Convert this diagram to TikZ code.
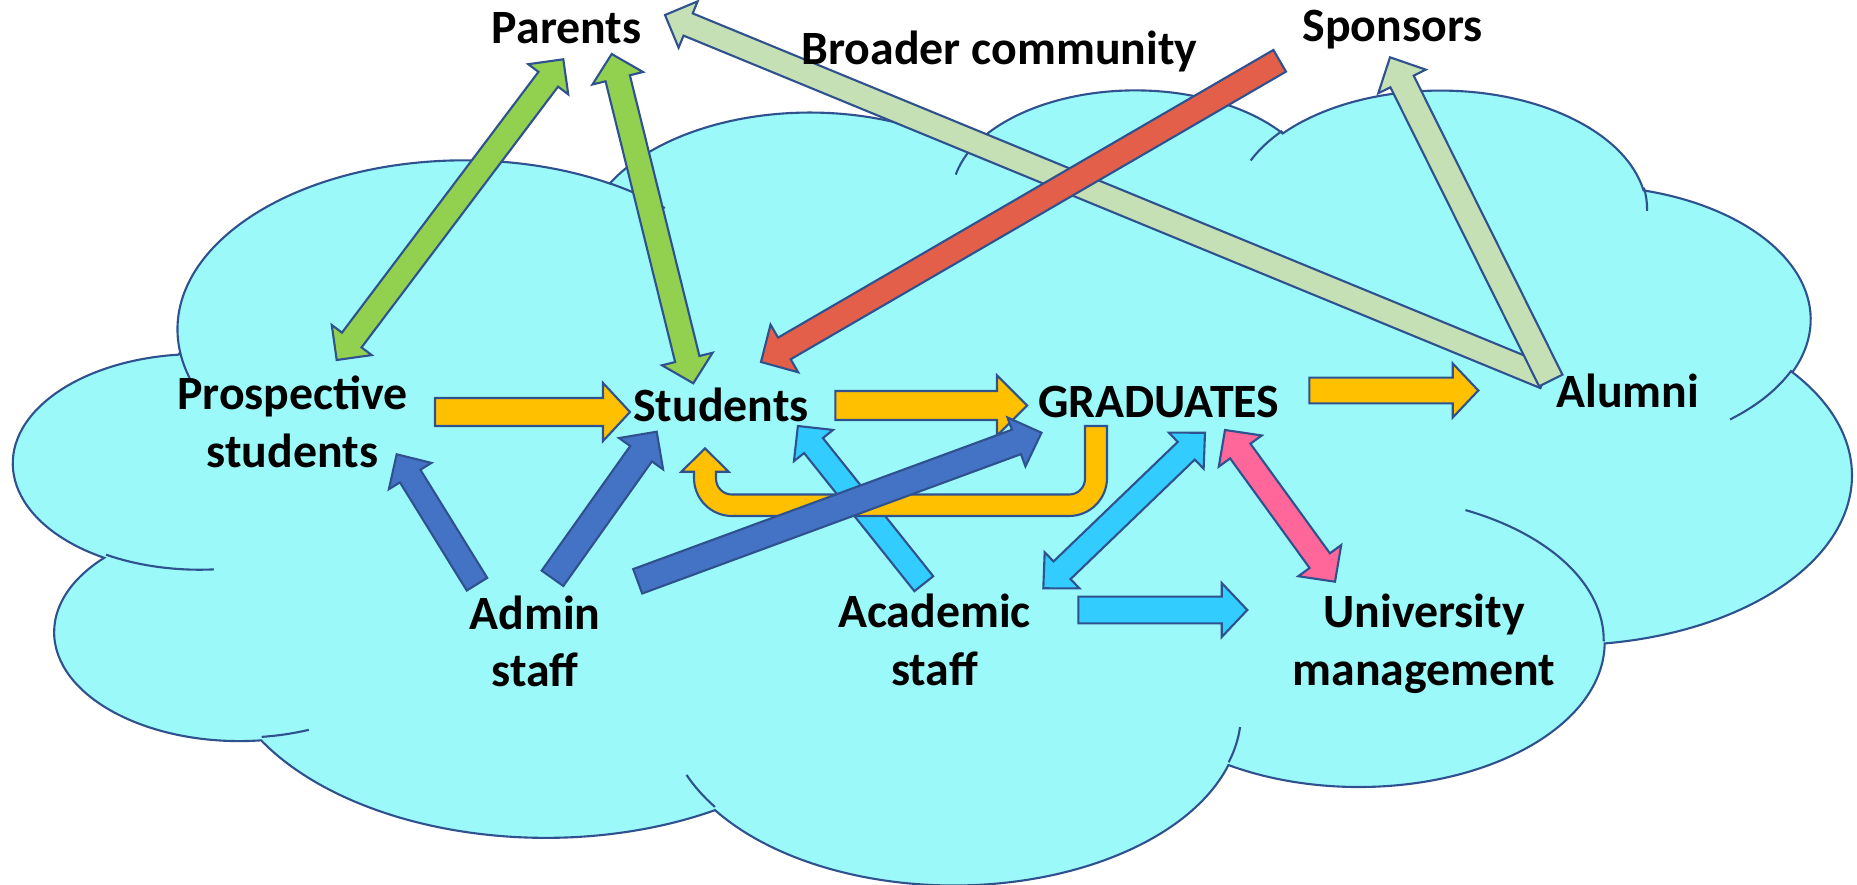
\documentclass[tikz,border=0pt]{standalone}
\usepackage{fontspec}
\setmainfont{Carlito}
\usetikzlibrary{calc}

\definecolor{edge}{HTML}{2F528F}
\definecolor{cloudfill}{HTML}{9BF9FA}
\definecolor{leaf}{HTML}{92D050}
\definecolor{sage}{HTML}{C5E0B4}
\definecolor{brick}{HTML}{E35F49}
\definecolor{amber}{HTML}{FFC000}
\definecolor{royal}{HTML}{4472C4}
\definecolor{sky}{HTML}{33CCFF}
\definecolor{rose}{HTML}{FF6699}

% single-headed block arrow: style, tail, tip, shaft width, head width, head length
\newcommand\blockarrow[6]{%
  \pgfmathsetmacro\baS{#4*0.005}%
  \pgfmathsetmacro\baH{#5*0.005}%
  \pgfmathsetmacro\baL{#6*0.01}%
  \coordinate (ba-n) at ($(#3)!\baL cm!(#2)$);
  \filldraw[arrowbody,#1] ($(#2)!\baS cm!90:(#3)$) -- ($(ba-n)!\baS cm!90:(#3)$)
    -- ($(ba-n)!\baH cm!90:(#3)$) -- (#3) -- ($(ba-n)!\baH cm!-90:(#3)$)
    -- ($(ba-n)!\baS cm!-90:(#3)$) -- ($(#2)!\baS cm!-90:(#3)$) -- cycle;
}
% double-headed block arrow
\newcommand\twowayarrow[6]{%
  \pgfmathsetmacro\baS{#4*0.005}%
  \pgfmathsetmacro\baH{#5*0.005}%
  \pgfmathsetmacro\baL{#6*0.01}%
  \coordinate (ba-m) at ($(#2)!\baL cm!(#3)$);
  \coordinate (ba-n) at ($(#3)!\baL cm!(#2)$);
  \filldraw[arrowbody,#1] (#2) -- ($(ba-m)!\baH cm!90:(#3)$) -- ($(ba-m)!\baS cm!90:(#3)$)
    -- ($(ba-n)!\baS cm!90:(#3)$) -- ($(ba-n)!\baH cm!90:(#3)$) -- (#3)
    -- ($(ba-n)!\baH cm!-90:(#3)$) -- ($(ba-n)!\baS cm!-90:(#3)$)
    -- ($(ba-m)!\baS cm!-90:(#3)$) -- ($(ba-m)!\baH cm!-90:(#3)$) -- cycle;
}

\begin{document}
\begin{tikzpicture}[x=0.01cm, y=-0.01cm,
  declare function={
    vis(\cA,\cW,\cH)=atan2(\cW*sin(\cA),\cH*cos(\cA));
    sweep(\cA,\cS,\cW,\cH)=mod(vis(\cA+\cS,\cW,\cH)-vis(\cA,\cW,\cH)+720,360);
  },
  lobe/.style n args={4}{insert path={arc[x radius=#3, y radius=#4,
      start angle={vis(#1,#3,#4)}, delta angle={sweep(#1,#2,#3,#4)}]}},
  cloud/.style={fill=cloudfill, draw=edge, line width=0.6pt},
  cusp/.style={draw=edge, line width=0.6pt},
  arrowbody/.style={draw=edge, line width=0.6pt, line join=miter},
  lbl/.style={font=\fontsize{13.6}{16.4}\selectfont\bfseries, align=center,
      inner sep=0pt, anchor=base},
]
\useasboundingbox (0,0) rectangle (1857,885);

% the cloud, built from eleven elliptic lobes
\begin{scope}[shift={(14.3,87.8)}]
\begin{scope}[x=0.04249cm, y=-0.018382cm]
\filldraw[cloud] (39.00,143.70)
  [lobe={-190.487}{123.781}{67.53}{91.90}]
  [lobe={-144.102}{89.945}{53.33}{72.67}]
  [lobe={-145.808}{99.723}{43.65}{59.45}]
  [lobe={-130.986}{117.242}{48.57}{65.95}]
  [lobe={-78.709}{109.027}{53.33}{72.73}]
  [lobe={-46.267}{130.269}{67.75}{92.20}]
  [lobe={0.625}{114.033}{57.85}{78.67}]
  [lobe={22.452}{115.173}{67.52}{92.15}]
  [lobe={66.243}{75.711}{77.20}{105.43}]
  [lobe={-274.942}{146.736}{43.60}{59.18}]
  [lobe={-246.829}{152.519}{43.45}{59.45}] -- cycle;
\draw[cusp] (46.93,261.77) [lobe={86.742}{26.430}{43.45}{59.45}];
\draw[cusp] (69.28,348.99) [lobe={73.610}{11.447}{43.60}{59.18}];
\draw[cusp] (164.78,390.90) [lobe={137.624}{14.081}{67.52}{92.15}];
\draw[cusp] (288.27,347.51) [lobe={6.453}{15.998}{67.52}{92.15}];
\draw[cusp] (341.29,229.54) [lobe={-70.292}{70.917}{57.85}{78.67}];
\draw[cusp] (417.98,153.54) [lobe={30.318}{27.752}{53.33}{72.73}];
\draw[cusp] (383.24,54.26) [lobe={-13.744}{14.859}{48.57}{65.95}];
\draw[cusp] (290.78,39.52) [lobe={-149.181}{18.195}{48.57}{65.95}];
\draw[cusp] (221.41,47.20) [lobe={-163.494}{17.686}{43.65}{59.45}];
\draw[cusp] (140.00,51.92) [lobe={-66.707}{12.319}{67.53}{91.90}];
\draw[cusp] (41.27,157.89) [lobe={157.654}{11.858}{67.53}{91.90}];
\end{scope}
\end{scope}

% arrow ends
\coordinate (pro-par-a) at (336.7,360);   \coordinate (pro-par-b) at (563.3,59.3);
\coordinate (stu-par-a) at (611.7,54);    \coordinate (stu-par-b) at (693.3,383.3);
\coordinate (alu-par-a) at (1545,377);    \coordinate (alu-par-b) at (665,15);
\coordinate (alu-spo-a) at (1550.8,380.5);\coordinate (alu-spo-b) at (1390,57.3);
\coordinate (spo-stu-a) at (1279.7,60.8); \coordinate (spo-stu-b) at (761,362);
\coordinate (pro-stu-a) at (435,412);     \coordinate (pro-stu-b) at (630,412);
\coordinate (stu-gra-a) at (835.4,405.5); \coordinate (stu-gra-b) at (1027,405.5);
\coordinate (gra-alu-a) at (1309.3,390.5);\coordinate (gra-alu-b) at (1478.3,390.5);
\coordinate (adm-pro-a) at (477,584.2);   \coordinate (adm-pro-b) at (396.7,454.3);
\coordinate (adm-stu-a) at (552.5,578.3); \coordinate (adm-stu-b) at (656.7,431.7);
\coordinate (adm-gra-a) at (637.7,581.3); \coordinate (adm-gra-b) at (1041.5,432.7);
\coordinate (aca-stu-a) at (923.8,583.7); \coordinate (aca-stu-b) at (797.9,426);
\coordinate (aca-gra-a) at (1043.3,588.3);\coordinate (aca-gra-b) at (1205,432.7);
\coordinate (aca-man-a) at (1078.3,610);  \coordinate (aca-man-b) at (1247.3,610);
\coordinate (gra-man-a) at (1225,430);    \coordinate (gra-man-b) at (1335,581.7);
\coordinate (u-start) at (1096,426);      \coordinate (u-tip) at (705,448.3);

% parents
\twowayarrow{fill=leaf}{pro-par-a}{pro-par-b}{24.5}{50}{25}
\twowayarrow{fill=leaf}{stu-par-a}{stu-par-b}{25}{52}{25}
% alumni outwards
\blockarrow{fill=sage}{alu-par-a}{alu-par-b}{24}{50}{25}
\blockarrow{fill=brick}{spo-stu-a}{spo-stu-b}{25}{55}{27}
\blockarrow{fill=sage}{alu-spo-a}{alu-spo-b}{26}{53}{27}
% main flow
\blockarrow{fill=amber}{pro-stu-a}{pro-stu-b}{28}{58}{27}
\blockarrow{fill=amber}{gra-alu-a}{gra-alu-b}{25.6}{54}{25.6}
% academic and management links
\blockarrow{fill=sky}{aca-man-a}{aca-man-b}{26.7}{54}{25.6}
\twowayarrow{fill=sky}{aca-gra-a}{aca-gra-b}{24.5}{50}{26}
\twowayarrow{fill=rose}{gra-man-a}{gra-man-b}{25}{53}{26}
% admin links
\blockarrow{fill=royal}{adm-pro-a}{adm-pro-b}{24}{50}{25.6}
\blockarrow{fill=royal}{adm-stu-a}{adm-stu-b}{26.5}{54}{27}
\blockarrow{fill=sky}{aca-stu-a}{aca-stu-b}{24}{50}{25}
% graduates back to students (u-turn)
\filldraw[arrowbody, fill=amber] ($(u-start)+(-11,0)$) -- ++(22,0) -- ++(0,52)
  arc[start angle=0, end angle=90, radius=38] -- ++(-337,0)
  arc[start angle=90, end angle=180, radius=38] -- ++(0,-6.3) -- ++(-12.5,0)
  -- (u-tip) -- ++(23.5,23.4) -- ++(-12.5,0) -- ++(0,7)
  arc[start angle=180, end angle=90, radius=15.8] -- ++(337.4,0)
  arc[start angle=90, end angle=0, radius=15.8] -- cycle;
\blockarrow{fill=amber}{stu-gra-a}{stu-gra-b}{29}{60}{30}
\blockarrow{fill=royal}{adm-gra-a}{adm-gra-b}{26}{52}{26.7}

% labels (two-line labels are placed by the baseline of their last line)
\node[lbl] (parents) at (566.7,43.3) {Parents};
\node[lbl] (broader) at (999.5,65) {Broader community};
\node[lbl] (sponsors) at (1392.5,41.7) {Sponsors};
\node[lbl] (prospective) at (292.5,467.3) {Prospective\\students};
\node[lbl] (students) at (721,421) {Students};
\node[lbl] (graduates) at (1158.8,417.3) {GRADUATES};
\node[lbl] (alumni) at (1627.8,407.7) {Alumni};
\node[lbl] (admin) at (535,686.7) {Admin\\staff};
\node[lbl] (academic) at (934.4,685) {Academic\\staff};
\node[lbl] (management) at (1424,685) {University\\management};
\end{tikzpicture}
\end{document}
